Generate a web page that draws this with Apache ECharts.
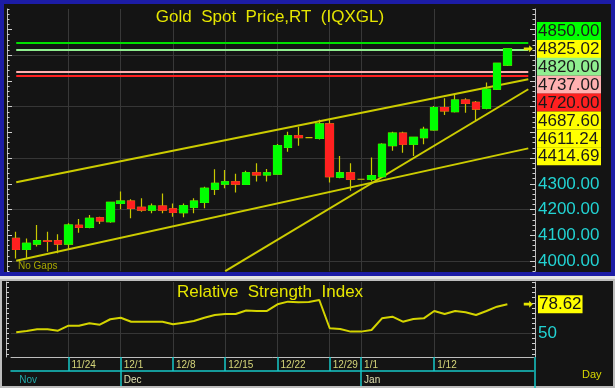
<!DOCTYPE html>
<html><head><meta charset="utf-8">
<script src="https://cdn.jsdelivr.net/npm/echarts@6/dist/echarts.min.js"></script>
<style>html,body{margin:0;padding:0;background:#141414}#c{width:615px;height:388px}</style>
</head><body><div id="c"></div>
<script>
// ---------- data ----------
const dates = ['11/17','11/18','11/19','11/20','11/21','11/24','11/25','11/26','11/27','11/28',
  '12/1','12/2','12/3','12/4','12/5','12/8','12/9','12/10','12/11','12/12',
  '12/15','12/16','12/17','12/18','12/19','12/22','12/23','12/24','12/25','12/26',
  '12/29','12/30','12/31','1/1','1/2','1/5','1/6','1/7','1/8','1/9',
  '1/12','1/13','1/14','1/15','1/16','1/19','1/20','1/21'];
const padCats = [' ', '  '];
const openV  = [4088,4045,4066,4078,4079,4066,4139,4131,4168,4153, 4224,4233,4209,4198,4214,4203,4188,4209,4228,4279,
  4299,4308,4298,4343,4335,4338,4442,4487,4480,4477, 4533,4326,4343,4318,4318,4328,4449,4497,4454,4480,
  4510,4597,4581,4626,4617,4594,4668,4762];
const closeV = [4045,4069,4079,4076,4066,4140,4131,4166,4156,4228, 4233,4205,4198,4214,4198,4189,4215,4233,4283,4302,
  4308,4299,4343,4335,4343,4449,4487,4480,4480,4533, 4328,4343,4318,4318,4332,4454,4497,4454,4481,4512,
  4597,4584,4626,4613,4591,4668,4769,4825.02];
const lowV   = [4010,4007,4056,4036,4030,4043,4110,4127,4144,4149, 4201,4166,4192,4186,4186,4172,4170,4186,4205,4257,
  4283,4266,4296,4309,4309,4338,4425,4448,4480,4473, 4305,4322,4273,4318,4309,4326,4429,4421,4408,4454,
  4507,4568,4578,4577,4548,4590,4665,4758];
const highV  = [4114,4088,4140,4114,4104,4147,4163,4179,4172,4230, 4270,4240,4244,4224,4263,4224,4224,4244,4289,4357,
  4354,4339,4351,4380,4358,4455,4503,4522,4480,4549, 4551,4408,4380,4318,4403,4458,4503,4503,4483,4522,
  4603,4633,4646,4633,4622,4694,4771,4827];
const rsiV = [51.2,52.4,54.1,54.1,52.7,57.6,57.6,60.0,58.6,63.9, 65.4,61.5,61.5,61.5,61.5,59.0,60.5,62.2,65.4,68.1,
  69.0,69.0,72.5,72.0,72.0,78.5,81.1,80.5,80.8,82.7, 55.1,54.4,51.8,51.8,53.4,64.8,66.4,61.5,64.2,64.8,
  72.0,69.0,72.0,70.7,68.1,72.0,76.2,78.62];
const trendUpper = [[0, 4306], [49, 4707]];
const trendLower = [[0, 4001], [49, 4438]];
const trendSteep = [[20, 3961], [49, 4668]];
const levelValues = [4850, 4820, 4737, 4720];
const lastPrice = 4825.02;
const rsiLast = 78.62;
const sideLabels = ['4850.00','4825.02','4820.00','4737.00','4720.00','4687.60','4611.24','4414.69'];
const yLabels = [4000, 4100, 4200, 4300];
const rsiLabels = [50, 78.62];
const weekLabels = ['11/24','12/1','12/8','12/15','12/22','12/29','1/1','1/12'];
const monthAt = ['11/17','12/1','1/1'];
const monthNames = ['Nov','Dec','Jan'];

// ---------- styles ----------
const levelColors = ['#00e000', '#90ee90', '#ffb0b0', '#ff2020'];
const boxColors = ['#00ff00','#ffff00','#90ee90','#ffb0b0','#ff2020','#ffff00','#ffff00','#ffff00'];
const FONT = '"Liberation Sans", Arial, sans-serif';
const NARROW = '"Liberation Sans Narrow", "Liberation Sans", Arial, sans-serif';
const CYAN = '#22d3d3';
const YEL = '#e6e600';
const TICK = '#d0d0d0';
const ARROW = 'path://M0,3 L6,3 L6,0 L10,5 L6,10 L6,7 L0,7 Z';

const categories = dates.concat(padCats);
function range(a, b, s) { const r = []; for (let v = a; v <= b + 1e-9; v += s) r.push(+v.toFixed(4)); return r; }
const mainMin = 3960, mainMax = 4980, rsiMin = 27, rsiMax = 100.3;

function yBase(gridIndex, position, min, max, offset) {
  return {type:'value', gridIndex, position, min, max, offset: offset || 0,
    axisLine:{show:false}, axisTick:{show:false}, axisLabel:{show:false}, splitLine:{show:false}};
}
function withTicks(ax, vals, len, line) {
  ax.axisTick = {show:true, inside:true, length:len, customValues: vals, lineStyle:{color:TICK, width:1}};
  if (line) ax.axisLine = {show:true, lineStyle:{color:'#bdbdbd', width:1}};
  return ax;
}
const y0 = withTicks(yBase(0,'left',mainMin,mainMax,4), range(4000,4900,100), 5, true);
const y1 = withTicks(yBase(0,'left',mainMin,mainMax,4), range(3960,4980,20), 2.5, false);
const y2 = withTicks(yBase(0,'right',mainMin,mainMax,1.5), range(4000,4900,100), 5, true);
y2.axisLabel = {show:true, customValues: yLabels, formatter: v => Number(v).toFixed(2), color: CYAN, fontSize: 17, fontFamily: FONT, margin: 3};
const y3 = withTicks(yBase(0,'right',mainMin,mainMax,1.5), range(3960,4980,20), 2.5, false);
const y4 = yBase(0,'left',mainMin,mainMax,0);
y4.axisTick = {show:false, customValues:[4000,4200,4400,4600,4800]};
y4.splitLine = {show:true, lineStyle:{color:'#363636', width:1}};
const y5 = withTicks(yBase(1,'left',rsiMin,rsiMax,5), range(30,100,5), 3, true);
const y6 = withTicks(yBase(1,'right',rsiMin,rsiMax,1.5), range(30,100,5), 3, true);
y6.axisLabel = {show:true, customValues: rsiLabels, margin: 3,
  formatter: v => Math.abs(v - rsiLast) < 0.01 ? '{box|' + rsiLast.toFixed(2) + '}' : '{cy|' + Math.round(v) + '}',
  rich: {box:{backgroundColor:'#ffff00', color:'#151515', fontSize:17, fontFamily:FONT, padding:[1,1,0,1]},
         cy:{color:CYAN, fontSize:17, fontFamily:FONT}}};
const y7 = yBase(1,'left',rsiMin,rsiMax,0);
y7.axisTick = {show:false, customValues:[50]};
y7.splitLine = {show:true, lineStyle:{color:'#363636', width:1}};

const weekFn = (i, v) => weekLabels.indexOf(v) >= 0;
const monthFn = (i, v) => monthAt.indexOf(v) >= 0;
const monthTickFn = (i, v) => monthAt.indexOf(v) > 0;

function seg(a, b, color, width) {
  return [{coord: a, lineStyle:{color, width, type:'solid'}}, {coord: b}];
}
const mlData = [
  seg(trendUpper[0], trendUpper[1], '#cccc00', 2),
  seg(trendLower[0], trendLower[1], '#cccc00', 2),
  seg(trendSteep[0], trendSteep[1], '#cccc00', 2)
].concat(levelValues.map((v, k) => seg([0, v], [49, v], levelColors[k], 2)));

const candleA = dates.map((d, i) => [openV[i], closeV[i], lowV[i], highV[i]]);
const candleB = dates.map((d, i) => highV[i] === lowV[i] ? '-' :
  [openV[i], closeV[i], Math.min(openV[i], closeV[i]), Math.max(openV[i], closeV[i])]);

const graphics = [
  {type:'rect', shape:{x:2, y:2, width:611, height:272}, style:{fill:'none', stroke:'#1c1ca6', lineWidth:4}, z:100},
  {type:'rect', shape:{x:0, y:276, width:615, height:3}, style:{fill:'#e4e4e4'}, z:100},
  {type:'rect', shape:{x:1, y:280, width:613, height:107}, style:{fill:'none', stroke:'#bdbdbd', lineWidth:2}, z:100},
  {type:'line', shape:{x1:535, y1:357, x2:535, y2:388}, style:{stroke:'#16c8c8', lineWidth:1.5}, z:100},
  {type:'text', x:270, y:17, style:{text:'Gold  Spot  Price,RT  (IQXGL)', fill:YEL, font:'17px ' + FONT, align:'center', verticalAlign:'middle'}, z:100},
  {type:'text', x:270, y:292, style:{text:'Relative  Strength  Index', fill:YEL, font:'17px ' + FONT, align:'center', verticalAlign:'middle'}, z:100},
  {type:'text', x:18, y:266, style:{text:'No Gaps', fill:'#a8a800', font:'10px ' + FONT, align:'left', verticalAlign:'middle'}, z:100},
  {type:'text', x:582, y:375, style:{text:'Day', fill:'#d8d800', font:'11px ' + FONT, align:'left', verticalAlign:'middle'}, z:100}
];
sideLabels.forEach((t, k) => {
  const top = 22 + k * 17.9;
  graphics.push({type:'rect', shape:{x:537, y:top, width:64, height:18}, style:{fill:boxColors[k]}, z:100});
  graphics.push({type:'text', x:538, y:top + 9.5, style:{text:t, fill:'#1a1a1a', font:'17px ' + FONT, align:'left', verticalAlign:'middle'}, z:101});
});

const arrowMark = (coord) => ({silent:true, symbol:ARROW, symbolSize:[9,7], itemStyle:{color:'#e6e600'},
  label:{show:false}, data:[{coord}]});

const option = {
  animation: false,
  backgroundColor: '#141414',
  grid: [
    {left: 11, right: 81.5, top: 9, height: 262.3},
    {left: 11, right: 81.5, top: 282, height: 75}
  ],
  xAxis: [
    {type:'category', gridIndex:0, data:categories, boundaryGap:true,
      axisLine:{show:false}, axisTick:{show:false}, axisLabel:{show:false},
      splitLine:{show:true, interval:weekFn, alignWithLabel:true, lineStyle:{color:'#383838', width:1}}},
    {type:'category', gridIndex:1, data:categories, boundaryGap:true, position:'bottom',
      axisLine:{show:true, lineStyle:{color:'#bdbdbd', width:1}},
      axisTick:{show:true, interval:weekFn, alignWithLabel:true, length:14, lineStyle:{color:'#16c8c8', width:1.5}},
      axisLabel:{show:true, interval:weekFn, align:'left', padding:[0,0,0,3], margin:3, color:'#d6d67a', fontSize:10, fontFamily:NARROW},
      splitLine:{show:true, interval:weekFn, alignWithLabel:true, lineStyle:{color:'#383838', width:1}}},
    {type:'category', gridIndex:1, data:categories, boundaryGap:true, position:'bottom', offset:14,
      axisLine:{show:true, lineStyle:{color:'#16c8c8', width:1.5}},
      axisTick:{show:true, interval:monthTickFn, alignWithLabel:true, length:17, lineStyle:{color:'#16c8c8', width:1.5}},
      axisLabel:{show:true, interval:monthFn, align:'left', padding:[0,0,0,3], margin:4, fontSize:10, fontFamily:NARROW,
        formatter: v => monthNames[monthAt.indexOf(v)] || '',
        color: (v) => v === '11/17' ? '#22a8a8' : '#e0e0b0'},
      splitLine:{show:false}}
  ],
  yAxis: [y0, y1, y2, y3, y4, y5, y6, y7],
  graphic: graphics,
  series: [
    {type:'candlestick', name:'wick', xAxisIndex:0, yAxisIndex:0, barWidth:8, data:candleA,
      itemStyle:{color:'#00ff00', color0:'#ff2020', borderColor:'#c8c800', borderColor0:'#c8c800', borderColorDoji:'#c8c800', borderWidth:1.2},
      markLine:{silent:true, symbol:['none','none'], label:{show:false}, data: mlData, z:1},
      markPoint: arrowMark([49, lastPrice]),
      z:3},
    {type:'candlestick', name:'body', xAxisIndex:0, yAxisIndex:0, barWidth:8, data:candleB,
      itemStyle:{color:'#00ff00', color0:'#ff2020', borderColor:'#00ff00', borderColor0:'#ff2020', borderColorDoji:'#ff2020', borderWidth:1},
      z:4},
    {type:'line', name:'RSI', xAxisIndex:1, yAxisIndex:5, data:rsiV, showSymbol:false, symbol:'none',
      lineStyle:{color:'#d4d400', width:2},
      markPoint: arrowMark([49, rsiLast]),
      z:3}
  ]
};
const chart = echarts.init(document.getElementById('c'));
chart.setOption(option);
</script></body></html>
